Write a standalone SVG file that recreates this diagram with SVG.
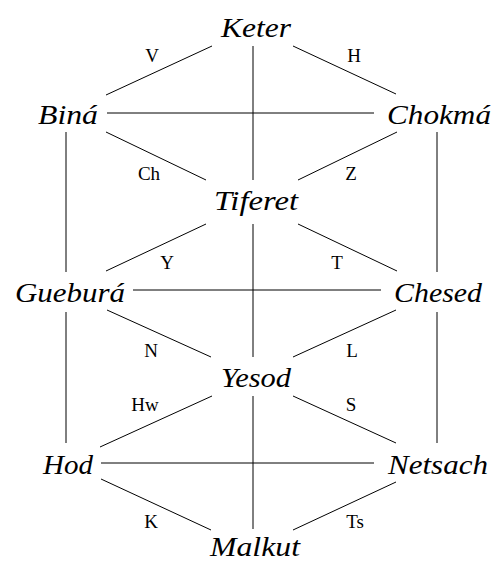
<svg xmlns="http://www.w3.org/2000/svg" width="494" height="561" viewBox="0 0 494 561">
<style>
.bg{fill:#fff}
.e{stroke:#000;stroke-width:1;fill:none}
.n{font-family:"Liberation Serif","DejaVu Serif",serif;font-style:italic;font-size:28px;fill:#000;text-anchor:middle}
.l{font-family:"Liberation Serif","DejaVu Serif",serif;font-size:19px;fill:#000;text-anchor:middle}
</style>
<rect class="bg" x="0" y="0" width="494" height="561"/>
<g id="connectors" class="e">
<line x1="212" y1="46" x2="106" y2="95"/>
<line x1="293" y1="46" x2="396" y2="94"/>
<line x1="253" y1="46" x2="253" y2="180"/>
<line x1="107" y1="113" x2="374" y2="113"/>
<line x1="106" y1="132" x2="206" y2="180"/>
<line x1="397" y1="132" x2="298" y2="180"/>
<line x1="66" y1="132" x2="66" y2="272"/>
<line x1="437" y1="132" x2="437" y2="272"/>
<line x1="206" y1="224" x2="106" y2="271"/>
<line x1="298" y1="224" x2="397" y2="271"/>
<line x1="253" y1="224" x2="253" y2="357"/>
<line x1="133" y1="290" x2="381" y2="290"/>
<line x1="107" y1="310" x2="211" y2="357"/>
<line x1="396" y1="310" x2="293" y2="357"/>
<line x1="66" y1="312" x2="66" y2="443"/>
<line x1="437" y1="312" x2="437" y2="443"/>
<line x1="212" y1="396" x2="100" y2="447"/>
<line x1="293" y1="396" x2="396" y2="443"/>
<line x1="253" y1="396" x2="253" y2="529"/>
<line x1="101" y1="463" x2="374" y2="463"/>
<line x1="101" y1="479" x2="211" y2="530"/>
<line x1="396" y1="482" x2="293" y2="530"/>
</g>
<g id="edge-labels">
<text class="l" x="152" y="62">V</text>
<text class="l" x="354" y="62">H</text>
<text class="l" x="149" y="180">Ch</text>
<text class="l" x="351" y="180">Z</text>
<text class="l" x="167" y="269">Y</text>
<text class="l" x="337" y="269">T</text>
<text class="l" x="151" y="357">N</text>
<text class="l" x="352" y="357">L</text>
<text class="l" x="145" y="411">Hw</text>
<text class="l" x="351" y="411">S</text>
<text class="l" x="151" y="528">K</text>
<text class="l" x="355" y="528">Ts</text>
</g>
<g id="keter"><text class="n" x="256" y="37" textLength="70" lengthAdjust="spacingAndGlyphs">Keter</text></g>
<g id="bina"><text class="n" x="68" y="124" textLength="60" lengthAdjust="spacingAndGlyphs">Biná</text></g>
<g id="chokma"><text class="n" x="439" y="124" textLength="104" lengthAdjust="spacingAndGlyphs">Chokmá</text></g>
<g id="tiferet"><text class="n" x="256" y="210" textLength="84" lengthAdjust="spacingAndGlyphs">Tiferet</text></g>
<g id="guebura"><text class="n" x="70" y="302" textLength="110" lengthAdjust="spacingAndGlyphs">Gueburá</text></g>
<g id="chesed"><text class="n" x="438" y="302" textLength="88" lengthAdjust="spacingAndGlyphs">Chesed</text></g>
<g id="yesod"><text class="n" x="256" y="387" textLength="70" lengthAdjust="spacingAndGlyphs">Yesod</text></g>
<g id="hod"><text class="n" x="68" y="474" textLength="50" lengthAdjust="spacingAndGlyphs">Hod</text></g>
<g id="netsach"><text class="n" x="438" y="474" textLength="100" lengthAdjust="spacingAndGlyphs">Netsach</text></g>
<g id="malkut"><text class="n" x="255" y="556" textLength="90" lengthAdjust="spacingAndGlyphs">Malkut</text></g>
</svg>
